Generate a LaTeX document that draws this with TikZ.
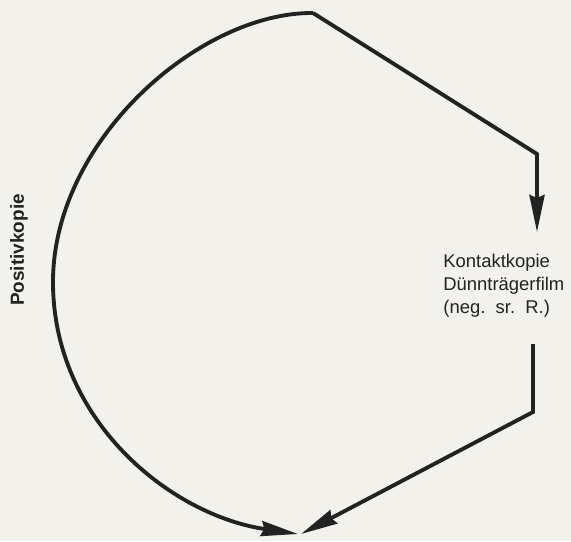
\documentclass[tikz,border=0pt]{standalone}
\usepackage{fontspec}
\setmainfont{Liberation Sans}
\usetikzlibrary{arrows.meta,positioning}
\definecolor{papier}{RGB}{243,241,236}
\definecolor{tinte}{RGB}{34,34,34}

\begin{document}
\begin{tikzpicture}[x=0.02cm,y=-0.02cm,
	fluss/.style={draw=tinte, line width=2.2pt, line join=miter,
		-{Stealth[length=0.74cm, width=0.3cm, inset=0.06cm]}},
	beschrift/.style={text=tinte, inner sep=0pt, font=\fontsize{10.5}{13}\selectfont}]
	% 1. Papier als Hintergrund, legt auch den Rahmen fest
	\fill[papier] (0,0) rectangle (571,541);
	\useasboundingbox (0,0) rectangle (571,541);
	
	% 2. Beschriftungen
	\node [beschrift, anchor=north west, align=left] (kontakt) at (443,254)
		{Kontaktkopie\\Dünnträgerfilm\\(neg.\ \ sr.\ \ R.)};
	\node [beschrift, rotate=90, font=\fontsize{10.8}{13}\selectfont\bfseries] (positiv) at (19,250) {Positivkopie};
	
	% 3. Eck- und Endpunkte der Linien
	\coordinate (oben) at (313,13);
	\coordinate (rechts_o) at (537,154);
	\coordinate (kontakt_ein) at (537,232);
	\coordinate (kontakt_aus) at (533,344);
	\coordinate (rechts_u) at (533,412);
	\coordinate (links) at (53,282);
	\coordinate (unten) at (298,534);
	\coordinate (unten_r) at (301,534);
	
	% 4. Weg zur Kontaktkopie
	\draw [fluss] (oben) -- (rechts_o) -- (kontakt_ein);
	% 5. Weg von der Kontaktkopie nach unten
	\draw [fluss] (kontakt_aus) -- (rechts_u) -- (unten_r);
	% 6. Großer Bogen (Positivkopie)
	\draw [fluss] (oben) .. controls (200,12) and (53,140) .. (links)
		.. controls (53,420) and (170,515) .. (unten);
\end{tikzpicture}
\end{document}
